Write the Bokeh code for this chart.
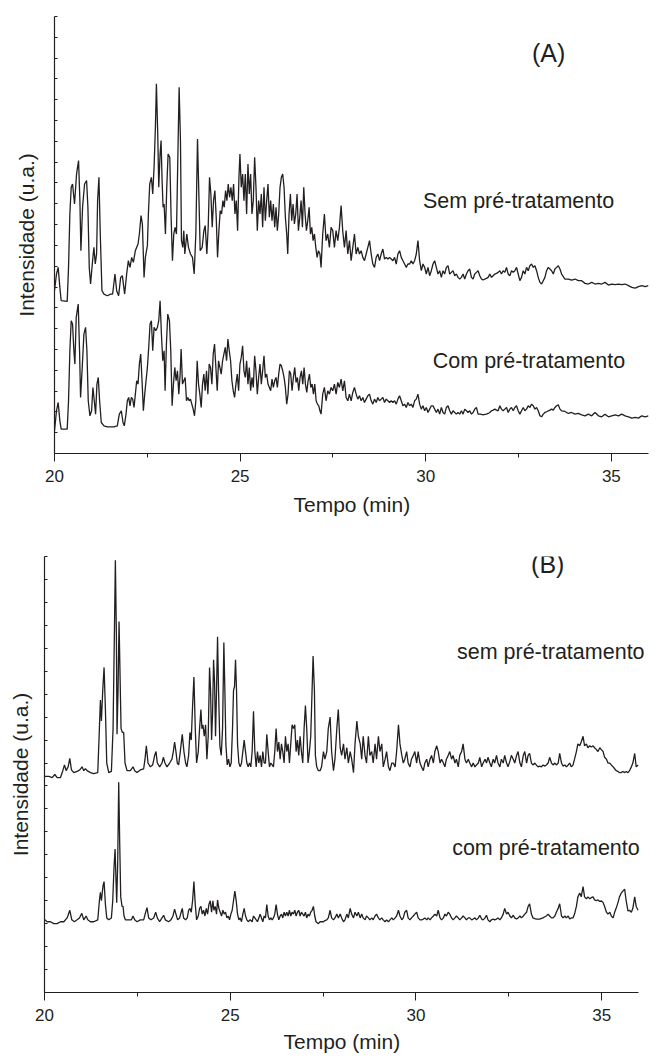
from bokeh.plotting import figure
from bokeh.layouts import column
from bokeh.models import FixedTicker, Label, Range1d, Title
from bokeh.embed import file_html
from bokeh.resources import INLINE

# ---------------- Panel (A) ----------------
a_sem_t_head = [20.000, 20.054, 20.099, 20.144, 20.180, 20.342, 20.378, 20.414, 20.450, 20.486,
 20.540, 20.594, 20.648, 20.684, 20.711, 20.756, 20.810, 20.864, 20.900, 20.936,
 20.972, 21.026, 21.062, 21.098, 21.134, 21.161, 21.197, 21.233, 21.278, 21.332,
 21.422, 21.512, 21.566, 21.629, 21.674, 21.728, 21.782, 21.827, 21.890, 21.944,
 21.989, 22.034, 22.079, 22.124, 22.178, 22.214, 22.250, 22.286, 22.331, 22.367,
 22.412, 22.448, 22.502, 22.529, 22.565, 22.610, 22.646, 22.682, 22.718, 22.745,
 22.781, 22.808, 22.844, 22.871, 22.898, 22.925, 22.952, 22.988, 23.024, 23.060,
 23.105, 23.141, 23.177, 23.213, 23.249, 23.285, 23.321, 23.357, 23.393, 23.420,
 23.456, 23.483, 23.510, 23.564, 23.609, 23.663, 23.717, 23.762, 23.807, 23.852,
 23.897, 23.924, 23.978, 24.023, 24.059, 24.104, 24.140, 24.176, 24.212, 24.248,
 24.284, 24.320, 24.356, 24.392, 24.428, 24.464, 24.500, 24.536, 24.572, 24.608,
 24.644, 24.680, 24.716, 24.752, 24.788, 24.824, 24.860, 24.896, 24.932, 24.968,
 24.995, 25.031, 25.067, 25.103, 25.139, 25.175, 25.211, 25.247, 25.283, 25.319,
 25.355, 25.391, 25.427, 25.463, 25.499, 25.535, 25.571, 25.607, 25.643, 25.679,
 25.715, 25.751, 25.787, 25.823, 25.859, 25.895, 25.931, 25.967, 26.003, 26.039,
 26.075, 26.111, 26.147, 26.183, 26.219, 26.255, 26.282, 26.318, 26.354, 26.390,
 26.426, 26.462, 26.498, 26.534, 26.570, 26.606, 26.642, 26.678, 26.714, 26.750,
 26.786, 26.822, 26.858, 26.894, 26.930, 26.966, 27.002, 27.038, 27.074, 27.110,
 27.150]
a_sem_i_head = [488, 538, 558, 498, 458, 456, 558, 718, 798, 808,
 748, 838, 878, 758, 608, 738, 808, 818, 738, 558,
 508, 578, 618, 568, 598, 758, 828, 658, 488, 478,
 473, 478, 478, 538, 488, 473, 528, 533, 478, 538,
 578, 558, 588, 573, 608, 618, 628, 658, 713, 688,
 528, 588, 623, 718, 808, 828, 778, 858, 978, 1108,
 958, 798, 898, 938, 818, 738, 748, 658, 798, 898,
 888, 708, 578, 658, 678, 658, 878, 1098, 938, 638,
 618, 668, 598, 658, 618, 598, 588, 538, 658, 943,
 738, 608, 618, 668, 683, 598, 678, 828, 778, 678,
 758, 788, 708, 588, 668, 728, 718, 758, 738, 788,
 758, 808, 768, 798, 758, 808, 718, 758, 668, 828,
 898, 798, 838, 758, 838, 718, 868, 778, 838, 718,
 758, 888, 798, 668, 758, 718, 778, 678, 798, 698,
 758, 808, 708, 758, 698, 748, 678, 738, 668, 718,
 798, 828, 838, 798, 708, 658, 598, 718, 778, 698,
 748, 688, 718, 778, 668, 708, 758, 678, 798, 718,
 668, 698, 738, 658, 678, 638, 658, 618, 588, 608,
 598]

a_com_t_head = [20.000, 20.054, 20.099, 20.144, 20.180, 20.342, 20.378, 20.414, 20.450, 20.486,
 20.522, 20.549, 20.585, 20.639, 20.675, 20.702, 20.747, 20.792, 20.837, 20.873,
 20.909, 20.954, 20.999, 21.035, 21.071, 21.107, 21.143, 21.179, 21.215, 21.260,
 21.332, 21.422, 21.512, 21.602, 21.692, 21.746, 21.800, 21.845, 21.881, 21.926,
 21.962, 21.998, 22.034, 22.070, 22.106, 22.142, 22.178, 22.214, 22.250, 22.286,
 22.322, 22.358, 22.394, 22.430, 22.466, 22.502, 22.538, 22.574, 22.610, 22.646,
 22.682, 22.727, 22.772, 22.808, 22.844, 22.880, 22.916, 22.952, 22.979, 23.015,
 23.051, 23.096, 23.132, 23.168, 23.204, 23.240, 23.276, 23.312, 23.348, 23.384,
 23.411, 23.447, 23.483, 23.519, 23.555, 23.591, 23.627, 23.663, 23.699, 23.735,
 23.771, 23.807, 23.843, 23.879, 23.915, 23.951, 23.987, 24.023, 24.059, 24.095,
 24.131, 24.167, 24.203, 24.239, 24.275, 24.311, 24.347, 24.383, 24.419, 24.455,
 24.491, 24.527, 24.563, 24.599, 24.635, 24.671, 24.707, 24.743, 24.779, 24.815,
 24.851, 24.887, 24.923, 24.959, 24.995, 25.031, 25.067, 25.103, 25.139, 25.175,
 25.211, 25.247, 25.283, 25.319, 25.355, 25.391, 25.427, 25.463, 25.499, 25.535,
 25.571, 25.607, 25.643, 25.679, 25.715, 25.751, 25.787, 25.823, 25.859, 25.895,
 25.931, 25.967, 26.003, 26.039, 26.075, 26.111, 26.147, 26.183, 26.219, 26.255,
 26.291, 26.327, 26.363, 26.399, 26.435, 26.471, 26.507, 26.543, 26.579, 26.615,
 26.651, 26.687, 26.723, 26.759, 26.795, 26.831, 26.867, 26.903, 26.939, 26.975,
 27.011, 27.047, 27.083, 27.119, 27.150]
a_com_i_head = [68, 128, 153, 98, 73, 73, 158, 308, 398, 388,
 308, 268, 408, 448, 308, 168, 258, 358, 378, 308,
 158, 113, 128, 198, 158, 118, 208, 228, 158, 93,
 83, 80, 80, 80, 83, 118, 128, 93, 83, 118,
 158, 168, 143, 168, 163, 138, 178, 218, 208, 268,
 298, 218, 128, 178, 218, 258, 318, 388, 398, 308,
 378, 368, 378, 398, 458, 358, 278, 308, 188, 328,
 418, 398, 308, 143, 208, 258, 218, 248, 178, 238,
 313, 208, 218, 228, 158, 168, 158, 163, 148, 133,
 113, 158, 278, 208, 178, 138, 208, 238, 188, 248,
 178, 268, 258, 208, 298, 328, 258, 188, 278, 258,
 238, 278, 298, 318, 278, 343, 308, 278, 218, 188,
 168, 208, 238, 188, 268, 288, 323, 248, 228, 278,
 208, 258, 188, 228, 198, 293, 248, 178, 228, 268,
 208, 248, 293, 228, 238, 208, 198, 188, 223, 198,
 218, 228, 198, 238, 268, 263, 248, 228, 198, 148,
 178, 248, 238, 188, 228, 258, 213, 228, 188, 228,
 248, 208, 258, 208, 183, 218, 238, 198, 208, 178,
 208, 158, 148, 143, 128]

a_t_tail = [27.18, 27.225, 27.27, 27.315, 27.36, 27.405, 27.45, 27.495, 27.54, 27.585,
 27.63, 27.675, 27.72, 27.765, 27.81, 27.855, 27.9, 27.945, 27.99, 28.035,
 28.08, 28.125, 28.17, 28.215, 28.26, 28.305, 28.35, 28.395, 28.44, 28.485,
 28.53, 28.575, 28.62, 28.665, 28.71, 28.755, 28.8, 28.845, 28.89, 28.935,
 28.98, 29.025, 29.07, 29.115, 29.16, 29.205, 29.25, 29.295, 29.34, 29.385,
 29.43, 29.475, 29.52, 29.565, 29.61, 29.655, 29.7, 29.745, 29.79, 29.835,
 29.88, 29.925, 29.97, 30.015, 30.06, 30.105, 30.15, 30.195, 30.24, 30.285,
 30.33, 30.375, 30.42, 30.465, 30.51, 30.555, 30.6, 30.645, 30.69, 30.735,
 30.78, 30.825, 30.87, 30.915, 30.96, 31.005, 31.05, 31.095, 31.14, 31.185,
 31.23, 31.275, 31.32, 31.365, 31.41, 31.455, 31.5, 31.545, 31.59, 31.635,
 31.68, 31.725, 31.77, 31.815, 31.86, 31.905, 31.95, 31.995, 32.04, 32.085,
 32.13, 32.175, 32.22, 32.265, 32.31, 32.355, 32.4, 32.445, 32.49, 32.535,
 32.58, 32.625, 32.67, 32.715, 32.76, 32.805, 32.85, 32.895, 32.94, 32.985,
 33.03, 33.075, 33.12, 33.165, 33.21, 33.255, 33.3, 33.345, 33.39, 33.435,
 33.48, 33.525, 33.57, 33.615, 33.66,
 33.75, 33.84, 33.93, 34.02, 34.11, 34.2, 34.29, 34.38, 34.47, 34.56,
 34.65, 34.74, 34.83, 34.92, 35.01, 35.1, 35.19, 35.28, 35.37, 35.46,
 35.55, 35.64, 35.73, 35.82, 35.91, 36.0]
a_sem_i_tail = [558, 658, 718, 638, 658, 618, 678, 668, 618, 668,
 638, 678, 743, 665, 618, 668, 598, 638, 578, 618,
 658, 598, 618, 598, 608, 588, 578, 598, 618, 638,
 598, 568, 558, 588, 598, 578, 598, 613, 583, 588,
 583, 588, 583, 578, 588, 568, 598, 608, 588, 578,
 568, 558, 568, 568, 578, 568, 578, 598, 638, 578,
 548, 568, 558, 538, 558, 533, 548, 568, 578, 558,
 538, 548, 528, 548, 538, 558, 563, 538, 543, 548,
 533, 538, 528, 523, 528, 538, 523, 538, 548, 553,
 528, 523, 538, 543, 548, 533, 523, 520, 523, 525,
 528, 538, 528, 533, 538, 540, 543, 548, 538, 548,
 543, 558, 538, 533, 548, 543, 548, 558, 538, 518,
 528, 548, 538, 558, 548, 563, 568, 558, 563, 548,
 528, 513, 508, 518, 528, 548, 558, 553, 548, 538,
 553, 558, 563, 553, 538,
 523, 523, 520, 523, 518, 518, 510, 508, 513, 508,
 510, 508, 513, 505, 508, 506, 508, 506, 508, 503,
 498, 496, 500, 503, 500, 503]
a_com_i_tail = [118, 178, 198, 158, 188, 178, 198, 188, 208, 178,
 213, 198, 223, 188, 218, 168, 158, 178, 158, 183,
 198, 178, 163, 173, 158, 168, 153, 163, 173, 178,
 158, 148, 163, 153, 168, 158, 163, 168, 153, 163,
 158, 153, 158, 153, 158, 148, 163, 173, 158, 143,
 148, 138, 153, 143, 148, 138, 158, 163, 178, 148,
 133, 143, 128, 138, 123, 133, 143, 143, 133, 123,
 133, 118, 138, 123, 118, 138, 143, 128, 118, 128,
 123, 118, 123, 118, 128, 118, 133, 128, 123, 128,
 118, 123, 133, 138, 118, 118, 117, 116, 117, 118,
 120, 123, 128, 130, 133, 130, 128, 143, 133, 128,
 133, 138, 123, 133, 138, 128, 138, 143, 128, 118,
 128, 138, 128, 133, 143, 138, 148, 143, 133, 138,
 128, 113, 110, 118, 123, 125, 128, 130, 133, 130,
 138, 143, 146, 133, 128,
 126, 120, 123, 118, 120, 116, 113, 118, 113, 123,
 113, 110, 118, 110, 113, 116, 113, 118, 113, 110,
 106, 108, 106, 113, 110, 113]

# ---------------- Panel (B) ----------------
b_sem_t_head = [20.009, 20.116, 20.206, 20.278, 20.340, 20.430, 20.493, 20.538, 20.582, 20.636,
 20.681, 20.726, 20.788, 20.878, 20.950, 21.012, 21.057, 21.102, 21.147, 21.236,
 21.326, 21.434, 21.478, 21.505, 21.532, 21.568, 21.604, 21.640, 21.676, 21.729,
 21.801, 21.846, 21.882, 21.908, 21.935, 21.953, 21.980, 22.007, 22.034, 22.061,
 22.097, 22.132, 22.168, 22.222, 22.312, 22.383, 22.428, 22.491, 22.580, 22.670,
 22.706, 22.742, 22.787, 22.849, 22.912, 22.966, 23.002, 23.037, 23.100, 23.163,
 23.199, 23.244, 23.297, 23.369, 23.432, 23.468, 23.503, 23.539, 23.575, 23.611,
 23.656, 23.709, 23.754, 23.799, 23.835, 23.880, 23.916, 23.951, 23.987, 24.023,
 24.059, 24.095, 24.140, 24.175, 24.211, 24.238, 24.265, 24.301, 24.337, 24.372,
 24.408, 24.444, 24.471, 24.498, 24.525, 24.552, 24.579, 24.605, 24.632, 24.659,
 24.686, 24.722, 24.758, 24.794, 24.829, 24.856, 24.883, 24.919, 24.955, 24.991,
 25.027, 25.062, 25.089, 25.116, 25.143, 25.170, 25.197, 25.233, 25.268, 25.304,
 25.340, 25.376, 25.412, 25.448, 25.484, 25.519, 25.555, 25.591, 25.627, 25.663,
 25.699, 25.734, 25.770, 25.806, 25.842, 25.878, 25.914, 25.949, 25.985, 26.021,
 26.057, 26.093, 26.129, 26.164, 26.200, 26.236, 26.272, 26.308, 26.344, 26.380,
 26.415, 26.451, 26.487, 26.523, 26.559, 26.595, 26.630, 26.666, 26.702, 26.738,
 26.774, 26.810, 26.845, 26.881, 26.917, 26.953, 26.989, 27.025, 27.060, 27.096,
 27.132, 27.168, 27.204, 27.231, 27.267, 27.293, 27.329, 27.374]
b_sem_i_head = [565, 565, 562, 570, 562, 562, 580, 595, 580, 590,
 612, 582, 575, 578, 582, 590, 580, 585, 580, 575,
 572, 575, 690, 765, 710, 790, 850, 740, 600, 575,
 578, 690, 940, 1130, 940, 675, 790, 970, 830, 690,
 680, 680, 600, 580, 580, 590, 580, 575, 582, 585,
 610, 645, 600, 590, 595, 620, 630, 600, 590, 600,
 615, 600, 590, 600, 610, 630, 655, 630, 600, 595,
 630, 675, 630, 600, 590, 620, 680, 660, 750, 825,
 690, 600, 630, 690, 740, 690, 700, 670, 700, 610,
 670, 850, 790, 660, 730, 870, 810, 670, 790, 930,
 790, 645, 620, 690, 915, 790, 650, 595, 610, 590,
 600, 690, 790, 800, 870, 790, 650, 600, 590, 600,
 630, 660, 630, 600, 590, 600, 590, 630, 735, 630,
 590, 630, 600, 620, 590, 630, 600, 600, 675, 630,
 590, 600, 595, 590, 630, 690, 630, 655, 610, 650,
 630, 600, 670, 630, 650, 600, 650, 700, 690, 700,
 630, 660, 620, 670, 630, 600, 690, 750, 690, 600,
 630, 670, 790, 880, 790, 620, 590, 580]

b_com_t_head = [20.009, 20.072, 20.161, 20.251, 20.340, 20.430, 20.520, 20.609, 20.681, 20.735,
 20.806, 20.878, 20.941, 21.004, 21.057, 21.120, 21.165, 21.236, 21.326, 21.434,
 21.478, 21.505, 21.532, 21.577, 21.604, 21.640, 21.676, 21.729, 21.801, 21.837,
 21.873, 21.900, 21.926, 21.944, 21.971, 21.998, 22.025, 22.052, 22.088, 22.115,
 22.141, 22.177, 22.267, 22.339, 22.383, 22.428, 22.491, 22.580, 22.670, 22.724,
 22.760, 22.804, 22.867, 22.939, 22.993, 23.037, 23.100, 23.163, 23.208, 23.252,
 23.342, 23.405, 23.459, 23.503, 23.539, 23.584, 23.638, 23.674, 23.709, 23.745,
 23.799, 23.844, 23.880, 23.916, 23.951, 23.987, 24.023, 24.059, 24.095, 24.140,
 24.175, 24.211, 24.247, 24.283, 24.319, 24.355, 24.390, 24.426, 24.462, 24.498,
 24.534, 24.561, 24.596, 24.632, 24.659, 24.695, 24.731, 24.767, 24.803, 24.838,
 24.874, 24.910, 24.946, 24.982, 25.018, 25.053, 25.089, 25.125, 25.161, 25.197,
 25.233, 25.268, 25.304, 25.340, 25.376, 25.412, 25.448, 25.484, 25.537, 25.591,
 25.627, 25.663, 25.699, 25.734, 25.770, 25.806, 25.842, 25.878, 25.914, 25.949,
 25.985, 26.021, 26.057, 26.093, 26.129, 26.164, 26.200, 26.236, 26.272, 26.308,
 26.344, 26.380, 26.415, 26.451, 26.487, 26.523, 26.559, 26.595, 26.630, 26.666,
 26.702, 26.738, 26.774, 26.810, 26.845, 26.881, 26.917, 26.953, 26.989, 27.025,
 27.060, 27.096, 27.132, 27.168, 27.204, 27.240, 27.276, 27.311, 27.374]
b_com_i_head = [190, 185, 185, 180, 180, 185, 185, 195, 215, 190,
 185, 190, 195, 207, 190, 200, 190, 185, 185, 190,
 240, 262, 240, 280, 290, 230, 195, 190, 195, 240,
 330, 375, 290, 235, 340, 550, 390, 250, 225, 225,
 200, 190, 190, 190, 200, 190, 185, 190, 190, 210,
 222, 195, 190, 195, 210, 195, 185, 195, 202, 190,
 185, 190, 200, 218, 205, 190, 195, 208, 220, 195,
 190, 195, 215, 220, 210, 240, 290, 230, 190, 200,
 220, 225, 205, 215, 200, 220, 205, 230, 240, 210,
 240, 215, 225, 205, 242, 220, 210, 200, 215, 205,
 210, 195, 200, 190, 205, 215, 240, 265, 240, 205,
 190, 195, 185, 205, 220, 200, 190, 185, 190, 185,
 200, 195, 190, 185, 195, 205, 195, 185, 200, 195,
 230, 200, 190, 195, 190, 195, 205, 230, 205, 190,
 200, 205, 195, 210, 200, 210, 200, 215, 200, 210,
 205, 215, 200, 210, 215, 200, 210, 205, 200, 210,
 195, 205, 200, 210, 215, 225, 200, 185, 180]

b_t_tail = [27.42, 27.46, 27.51, 27.55, 27.60, 27.64, 27.69, 27.73, 27.78, 27.82,
 27.87, 27.91, 27.96, 28.00, 28.05, 28.09, 28.14, 28.18, 28.23, 28.27,
 28.32, 28.36, 28.41, 28.45, 28.50, 28.54, 28.58, 28.63, 28.67, 28.72,
 28.76, 28.81, 28.85, 28.90, 28.94, 28.99, 29.03, 29.08, 29.12, 29.17,
 29.21, 29.26, 29.30, 29.35, 29.39, 29.44, 29.48, 29.53, 29.57, 29.62,
 29.66, 29.70, 29.75, 29.79, 29.84, 29.88, 29.93, 29.97, 30.02, 30.06,
 30.11, 30.15, 30.20, 30.24, 30.29, 30.33, 30.38, 30.42, 30.47, 30.51,
 30.56, 30.60, 30.65, 30.69, 30.74, 30.78, 30.82, 30.87, 30.91, 30.96,
 31.00, 31.05, 31.09, 31.14, 31.18, 31.23, 31.27, 31.32, 31.36, 31.41,
 31.45, 31.50, 31.54, 31.59, 31.63, 31.68, 31.72, 31.77, 31.81, 31.86,
 31.90, 31.94, 31.99, 32.03, 32.08, 32.12, 32.17, 32.21, 32.26, 32.30,
 32.35, 32.39, 32.44, 32.48, 32.53, 32.57, 32.62, 32.66, 32.71, 32.75,
 32.80, 32.84, 32.89, 32.93, 32.98, 33.02, 33.06, 33.11, 33.15, 33.20,
 33.24, 33.29, 33.33, 33.38, 33.42, 33.47, 33.51, 33.56, 33.60, 33.65,
 33.69, 33.74, 33.78, 33.83, 33.87, 33.92, 33.96, 34.01, 34.05, 34.10,
 34.14, 34.18, 34.23, 34.27, 34.32, 34.36, 34.41, 34.45, 34.50, 34.54,
 34.59, 34.63, 34.68, 34.72, 34.77, 34.81, 34.86, 34.90, 34.95, 34.99,
 35.04, 35.08, 35.13, 35.17, 35.22, 35.26, 35.31, 35.35, 35.39, 35.44,
 35.48, 35.53, 35.57, 35.62, 35.66, 35.71, 35.75, 35.80, 35.84, 35.89,
 35.93, 35.98]
b_sem_i_tail = [580, 590, 630, 610, 630, 690, 720, 630, 580, 610,
 690, 740, 640, 620, 650, 610, 640, 600, 630, 610,
 575, 650, 710, 670, 650, 610, 670, 620, 600, 670,
 620, 630, 600, 650, 610, 670, 630, 650, 590, 610,
 630, 590, 580, 600, 600, 590, 630, 700, 650, 620,
 600, 610, 630, 600, 590, 610, 620, 630, 600, 630,
 600, 590, 580, 600, 610, 590, 610, 620, 600, 630,
 645, 630, 600, 610, 600, 590, 610, 620, 630, 610,
 620, 600, 610, 590, 620, 630, 650, 610, 600, 610,
 600, 590, 600, 590, 595, 600, 615, 590, 600, 610,
 600, 615, 600, 590, 610, 600, 620, 600, 590, 610,
 600, 620, 600, 590, 605, 620, 610, 600, 620, 630,
 600, 590, 620, 630, 600, 620, 625, 600, 595, 600,
 595, 590, 592, 590, 595, 592, 595, 600, 615, 600,
 595, 600, 595, 600, 625, 600, 592, 595, 590, 595,
 600, 590, 595, 610, 630, 650, 645, 655, 670, 645,
 650, 640, 645, 642, 645, 640, 635, 630, 640, 635,
 630, 615, 610, 600, 600, 595, 590, 585, 580, 578,
 575, 575, 578, 575, 578, 575, 580, 590, 600, 625,
 590, 595]
b_com_i_tail = [185, 185, 185, 188, 190, 195, 215, 195, 190, 195,
 205, 195, 205, 195, 185, 190, 205, 195, 220, 205,
 195, 210, 200, 210, 195, 205, 195, 190, 200, 195,
 190, 195, 190, 200, 205, 195, 190, 195, 190, 185,
 190, 185, 190, 195, 190, 195, 200, 215, 200, 190,
 195, 210, 215, 195, 190, 195, 200, 205, 210, 195,
 190, 190, 192, 195, 190, 195, 190, 195, 200, 205,
 200, 215, 195, 190, 195, 205, 200, 210, 205, 195,
 190, 195, 200, 195, 190, 195, 200, 195, 190, 195,
 195, 190, 192, 195, 190, 195, 202, 192, 190, 195,
 202, 190, 185, 190, 192, 190, 192, 195, 190, 195,
 205, 220, 205, 210, 200, 195, 202, 195, 192, 195,
 200, 195, 200, 205, 210, 225, 232, 205, 195, 193,
 192, 192, 192, 194, 195, 198, 200, 205, 200, 195,
 195, 200, 210, 220, 232, 200, 195, 200, 195, 200,
 192, 195, 195, 205, 225, 250, 260, 250, 277, 250,
 245, 250, 245, 248, 250, 242, 240, 242, 238, 240,
 235, 225, 210, 205, 210, 200, 195, 210, 220, 235,
 250, 260, 265, 270, 240, 213, 215, 210, 220, 250,
 225, 215]

x_major = [20, 25, 30, 35]
x_minor = [22.5, 27.5, 32.5]
x_axis_span = (20, 36)

INK = "#231f20"
FONT = "Liberation Sans"


def series(th, ih, tt, it):
    assert len(th) == len(ih) and len(tt) == len(it), (len(th), len(ih), len(tt), len(it))
    return th + tt, ih + it


def make_panel(height, b_left, b_right, b_top, b_bottom, x_end, y_top, n_yticks, traces, labels,
               ylab_standoff, xlab_standoff, xlab_offset):
    p = figure(width=656, height=height, x_range=Range1d(20, x_end), y_range=Range1d(0, y_top),
               output_backend="svg", toolbar_location=None,
               min_border_left=b_left, min_border_right=b_right,
               min_border_top=b_top, min_border_bottom=b_bottom)
    p.frame_align = False
    p.outline_line_color = None
    p.grid.visible = False
    p.background_fill_color = "white"
    for t, i in traces:
        p.line(t, i, line_color=INK, line_width=1.3)

    xa = p.xaxis[0]
    xa.bounds = x_axis_span
    xa.ticker = FixedTicker(ticks=x_major, minor_ticks=x_minor)
    xa.axis_line_color = INK
    xa.axis_line_width = 1.2
    xa.major_tick_line_color = INK
    xa.minor_tick_line_color = INK
    xa.major_tick_out = 8
    xa.major_tick_in = 0
    xa.minor_tick_out = 4
    xa.minor_tick_in = 0
    xa.major_label_text_font = FONT
    xa.major_label_text_font_size = "17px"
    xa.major_label_text_color = INK
    xa.major_label_standoff = 8
    # x-axis title placed below the axis, left-aligned with an offset so that it is
    # centred under the 20-36 min axis line
    p.add_layout(Title(text="Tempo (min)", align="left", offset=xlab_offset,
                       text_font=FONT, text_font_size="21px", text_font_style="normal",
                       text_color=INK, standoff=xlab_standoff), "below")

    ya = p.yaxis[0]
    step = y_top / n_yticks
    # unlabelled inner ticks: drawn as minor ticks so that no tick texts exist
    ya.ticker = FixedTicker(ticks=[], minor_ticks=[k * step for k in range(n_yticks + 1)])
    ya.axis_line_color = INK
    ya.axis_line_width = 1.2
    ya.minor_tick_line_color = INK
    ya.minor_tick_in = 3
    ya.minor_tick_out = 0
    ya.major_tick_in = 0
    ya.major_tick_out = 0
    ya.major_label_standoff = 0
    ya.axis_label = "Intensidade (u.a.)"
    ya.axis_label_text_font = FONT
    ya.axis_label_text_font_size = "21px"
    ya.axis_label_text_font_style = "normal"
    ya.axis_label_text_color = INK
    ya.axis_label_standoff = ylab_standoff

    for (x, y, txt, size) in labels:
        p.add_layout(Label(x=x, y=y, text=txt, text_align="center", text_baseline="middle",
                           text_font=FONT, text_font_size=size, text_color=INK))
    return p


pa = make_panel(530, 54, 8, 16, 77, 36.0, 1310, 21,
                [series(a_sem_t_head, a_sem_i_head, a_t_tail, a_sem_i_tail),
                 series(a_com_t_head, a_com_i_head, a_t_tail, a_com_i_tail)],
                [(33.31, 1202, "(A)", "25px"),
                 (32.5, 758, "Sem pré-tratamento", "21.5px"),
                 (32.78, 278, "Com pré-tratamento", "21.5px")], 17, 13, 239)

# panel B: the frame runs a little past 36 min so that the right-hand texts are not cut,
# while the axis line itself stops at 36 min (axis bounds)
pb = make_panel(530, 44, 1, 26, 68, 36.45, 1140, 19,
                [series(b_sem_t_head, b_sem_i_head, b_t_tail, b_sem_i_tail),
                 series(b_com_t_head, b_com_i_head, b_t_tail, b_com_i_tail)],
                [(33.55, 1121, "(B)", "25px"),
                 (33.63, 891, "sem pré-tratamento", "21.5px"),
                 (33.5, 379, "com pré-tratamento", "21.5px")], 13, 9, 239)

layout = column(pa, pb, spacing=0)
open("out.html", "w").write(file_html(layout, INLINE))
